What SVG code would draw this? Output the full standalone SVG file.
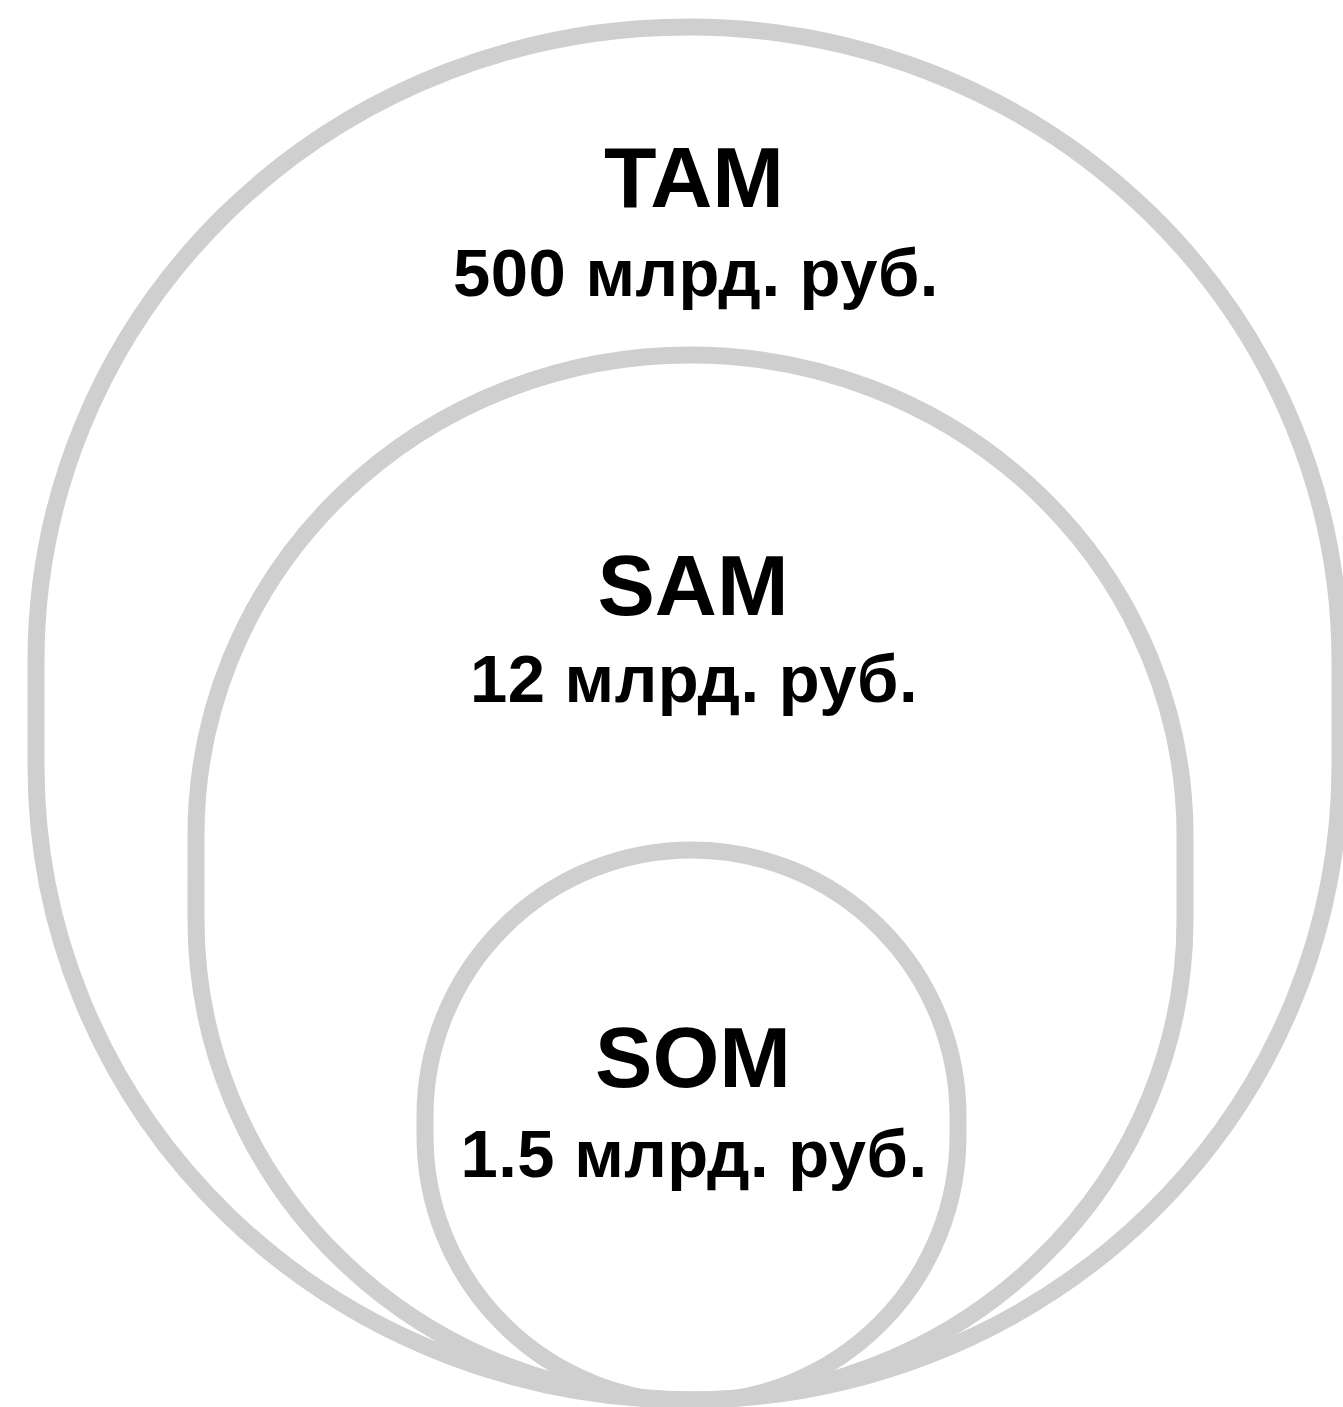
<svg xmlns="http://www.w3.org/2000/svg" width="1343" height="1407" viewBox="0 0 1343 1407">
<style>
.ring{fill:none;stroke:#cfcfcf;stroke-width:17}
.t{font-family:"Liberation Sans",Arial,sans-serif;font-weight:bold;fill:#000;text-anchor:middle}
.h{font-size:86px}
.v{font-size:67px;letter-spacing:0.5px}
</style>
<rect width="1343" height="1407" fill="#fff"/>
<g id="tam">
<rect class="ring" x="36" y="27" width="1304" height="1373" rx="652" ry="634"/>
<text class="t h" x="694" y="207">TAM</text>
<text class="t v" x="696" y="296">500 млрд. руб.</text>
</g>
<g id="sam">
<rect class="ring" x="196" y="355" width="989" height="1045" rx="494.5" ry="480"/>
<text class="t h" x="693" y="615">SAM</text>
<text class="t v" x="694" y="702">12 млрд. руб.</text>
</g>
<g id="som">
<rect class="ring" x="425" y="850" width="533" height="552" rx="266.5" ry="266"/>
<text class="t h" x="693" y="1087">SOM</text>
<text class="t v" x="694" y="1177">1.5 млрд. руб.</text>
</g>
<g id="connectors"></g>
</svg>
